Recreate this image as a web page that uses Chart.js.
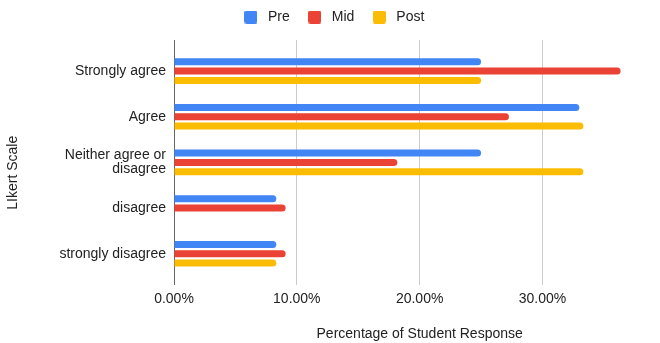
<!DOCTYPE html>
<html>
<head>
<meta charset="utf-8">
<script src="https://cdn.jsdelivr.net/npm/chart.js@4.4.1/dist/chart.umd.min.js"></script>
<style>
  html, body { margin: 0; padding: 0; background: #fff; overflow: hidden; width: 660px; height: 343px; }
  #wrap { position: relative; width: 700px; height: 343px; }
</style>
</head>
<body>
<div id="wrap"><canvas id="chart" width="700" height="343"></canvas></div>
<script>
// Survey responses per Likert level, as a share of students (%)
const categories = ['Strongly agree', 'Agree', ['Neither agree or', 'disagree'], 'disagree', 'strongly disagree'];
const seriesNames = ['Pre', 'Mid', 'Post'];
const preValues = [25, 33, 25, 8.33, 8.33];
const midValues = [36.36, 27.27, 18.18, 9.09, 9.09];
const postValues = [25, 33.33, 33.33, 0, 8.33];
const xTickValues = [0, 10, 20, 30, 40];

const seriesValues = [preValues, midValues, postValues];
const seriesColors = ['#4285F4', '#EA4335', '#FBBC04'];
const textColor = '#222';
const fontFamily = "'Liberation Sans', Arial, sans-serif";

Chart.defaults.font.family = fontFamily;
Chart.defaults.font.size = 14;
Chart.defaults.color = textColor;

// Small rounded colour swatch used as the legend marker
function swatch(color) {
  const c = document.createElement('canvas');
  c.width = 13; c.height = 13;
  const g = c.getContext('2d');
  g.fillStyle = color;
  g.beginPath();
  g.roundRect(0, 0, 13, 13, 2);
  g.fill();
  return c;
}
const swatches = seriesColors.map(swatch);

// Leave a little extra room under the legend
const legendSpace = {
  id: 'legendSpace',
  beforeLayout(chart) {
    const legend = chart.legend;
    if (legend && !legend._spaced) {
      const fit = legend.fit;
      legend.fit = function () { fit.call(this); this.height += 6; };
      legend._spaced = true;
    }
  }
};

// Vertical axis title, drawn a little below the plot's middle
const sideTitle = {
  id: 'sideTitle',
  afterDraw(chart, args, opts) {
    const { ctx, chartArea } = chart;
    ctx.save();
    ctx.translate(13.5, (chartArea.top + chartArea.bottom) / 2 + 10);
    ctx.rotate(-Math.PI / 2);
    ctx.font = '14px ' + fontFamily;
    ctx.fillStyle = textColor;
    ctx.textAlign = 'center';
    ctx.textBaseline = 'middle';
    ctx.fillText(opts.text, 0, 0);
    ctx.restore();
  }
};

new Chart(document.getElementById('chart'), {
  type: 'bar',
  data: {
    labels: categories.map((_, i) => i),
    datasets: seriesNames.map((name, i) => ({
      label: name,
      data: seriesValues[i],
      backgroundColor: seriesColors[i],
      borderWidth: 0,
      borderRadius: 3.5,
      borderSkipped: 'start',
      categoryPercentage: 0.614,
      barPercentage: 0.75
    }))
  },
  plugins: [legendSpace, sideTitle],
  options: {
    indexAxis: 'y',
    responsive: false,
    animation: false,
    layout: { padding: { top: -5, right: 34.7, bottom: 0, left: 0 } },
    scales: {
      x: {
        type: 'linear',
        min: 0,
        max: 40,
        afterBuildTicks(scale) { scale.ticks = xTickValues.map(v => ({ value: v })); },
        grid: {
          drawTicks: false,
          lineWidth: 1,
          color: ctx => (ctx.tick && ctx.tick.value === 0 ? '#666' : '#ccc')
        },
        border: { display: false },
        ticks: {
          padding: 5,
          color: textColor,
          maxRotation: 0,
          autoSkip: false,
          callback: v => (v >= 40 ? '' : v.toFixed(2) + '%')
        },
        title: {
          display: true,
          text: 'Percentage of Student Response',
          color: textColor,
          font: { size: 14 },
          padding: { top: 14, bottom: 0 }
        }
      },
      y: {
        type: 'linear',
        reverse: true,
        offset: false,
        min: -0.68,
        max: 4.693,
        afterBuildTicks(scale) { scale.ticks = categories.map((_, i) => ({ value: i })); },
        afterFit(scale) { scale.width = 174; },
        grid: { display: false, drawTicks: false, offset: false },
        border: { display: false },
        ticks: {
          padding: 8,
          color: textColor,
          autoSkip: false,
          font: { size: 14, lineHeight: 1.0 },
          callback: v => categories[v]
        }
      }
    },
    plugins: {
      legend: {
        position: 'top',
        labels: {
          usePointStyle: true,
          pointStyleWidth: 20,
          padding: 15,
          color: textColor,
          font: { size: 14 },
          generateLabels(chart) {
            const items = Chart.defaults.plugins.legend.labels.generateLabels(chart);
            items.forEach((it, i) => { it.pointStyle = swatches[i]; it.fontColor = textColor; });
            return items;
          }
        }
      },
      tooltip: { enabled: false },
      sideTitle: { text: 'LIkert Scale' }
    }
  }
});
</script>
</body>
</html>
